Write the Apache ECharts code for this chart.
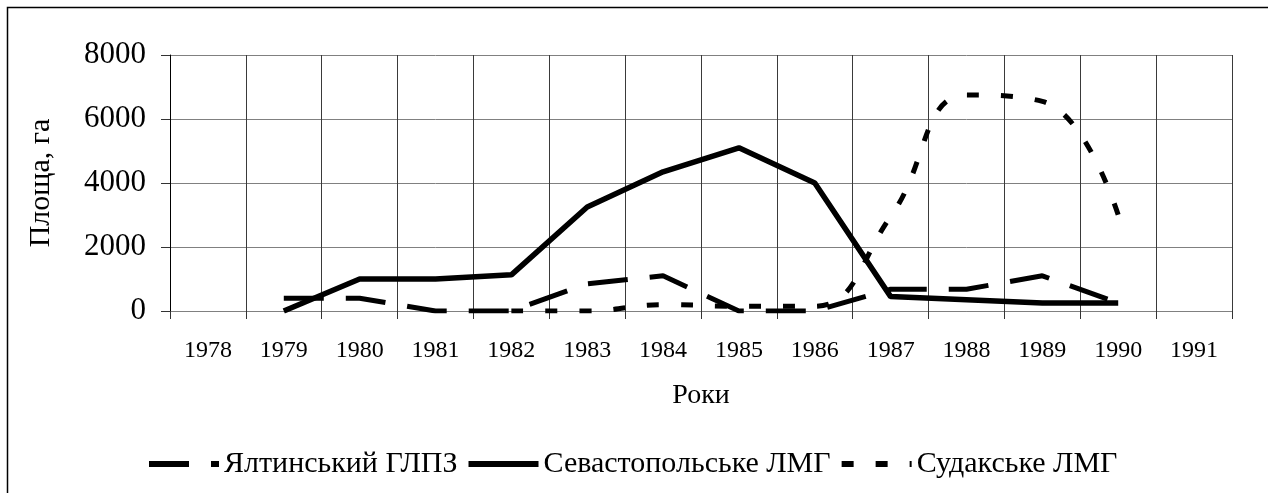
<!DOCTYPE html>
<html>
<head>
<meta charset="utf-8">
<script src="https://cdn.jsdelivr.net/npm/echarts@6/dist/echarts.min.js"></script>
<style>
  html, body { margin: 0; padding: 0; background: #fff; }
  #chart { width: 1268px; height: 493px; }
</style>
</head>
<body>
<div id="chart"></div>
<script>
// роки
var years = ['1978', '1979', '1980', '1981', '1982', '1983', '1984', '1985', '1986', '1987', '1988', '1989', '1990', '1991'];
// площа, га
var yaltaData = [null, 400, 400, 0, 0, 850, 1100, 0, 0, 680, 680, 1100, 250, null];
var sevastopolData = [null, 0, 1000, 1000, 1130, 3250, 4350, 5100, 4000, 450, 350, 250, 250, null];
var sudakData = [null, null, null, null, 0, 0, 200, 150, 150, 2950, 6750, 6550, 3000, null];
var yTicks = [0, 2000, 4000, 6000, 8000];

var seriesNames = ['Ялтинський ГЛПЗ', 'Севастопольське ЛМГ', 'Судакське ЛМГ'];
var font = '"Liberation Serif", "Times New Roman", serif';

var chart = echarts.init(document.getElementById('chart'));

var option = {
    backgroundColor: '#fff',
    animation: false,
    textStyle: { fontFamily: font, color: '#000' },
    graphic: [{
        type: 'rect',
        shape: { x: 7.5, y: 7.5, width: 1400, height: 700 },
        style: { fill: 'none', stroke: '#000', lineWidth: 1.5 },
        silent: true
    }],
    grid: { left: 170, right: 36, top: 55, bottom: 182 },
    legend: {
        left: 141,
        top: 444,
        itemWidth: 70,
        itemHeight: 14,
        itemGap: 8,
        itemStyle: { opacity: 0 },
        lineStyle: { width: 6 },
        textStyle: { fontFamily: font, fontSize: 30, color: '#000' },
        data: seriesNames
    },
    xAxis: {
        type: 'category',
        data: years,
        boundaryGap: true,
        name: 'Роки',
        nameLocation: 'middle',
        nameGap: 71,
        nameTextStyle: { fontFamily: font, fontSize: 28, color: '#000' },
        axisLine: { show: true, lineStyle: { color: '#808080', width: 1 } },
        axisTick: { show: true, interval: 0, length: 8, lineStyle: { color: '#333' } },
        axisLabel: { interval: 0, margin: 28, fontFamily: font, fontSize: 24, color: '#000' },
        splitLine: { show: true, interval: 0, lineStyle: { color: '#3a3a3a', width: 1 } }
    },
    yAxis: {
        type: 'value',
        min: yTicks[0],
        max: yTicks[yTicks.length - 1],
        interval: 2000,
        name: 'Площа, га',
        nameLocation: 'middle',
        nameRotate: 90,
        nameGap: 114,
        nameTextStyle: { fontFamily: font, fontSize: 30, color: '#000' },
        axisLine: { show: true, lineStyle: { color: '#000', width: 1 } },
        axisTick: { show: true, length: 9, lineStyle: { color: '#333' } },
        axisLabel: {
            margin: 24, fontFamily: font, fontSize: 31, color: '#000',
            formatter: function (v) { return String(v); }
        },
        splitLine: { show: true, lineStyle: { color: '#808080', width: 1 } }
    },
    series: [
        {
            name: seriesNames[0],
            type: 'line',
            data: yaltaData,
            symbol: 'none',
            lineStyle: { color: '#000', width: 5, type: [40, 22], cap: 'butt' },
            itemStyle: { color: '#000' }
        },
        {
            name: seriesNames[1],
            type: 'line',
            data: sevastopolData,
            symbol: 'none',
            lineStyle: { color: '#000', width: 5.5, type: 'solid' },
            itemStyle: { color: '#000' }
        },
        {
            name: seriesNames[2],
            type: 'line',
            data: sudakData,
            symbol: 'none',
            smooth: 0.45,
            lineStyle: { color: '#000', width: 5, type: [12, 22], cap: 'butt' },
            itemStyle: { color: '#000' }
        }
    ]
};

chart.setOption(option);
</script>
</body>
</html>
